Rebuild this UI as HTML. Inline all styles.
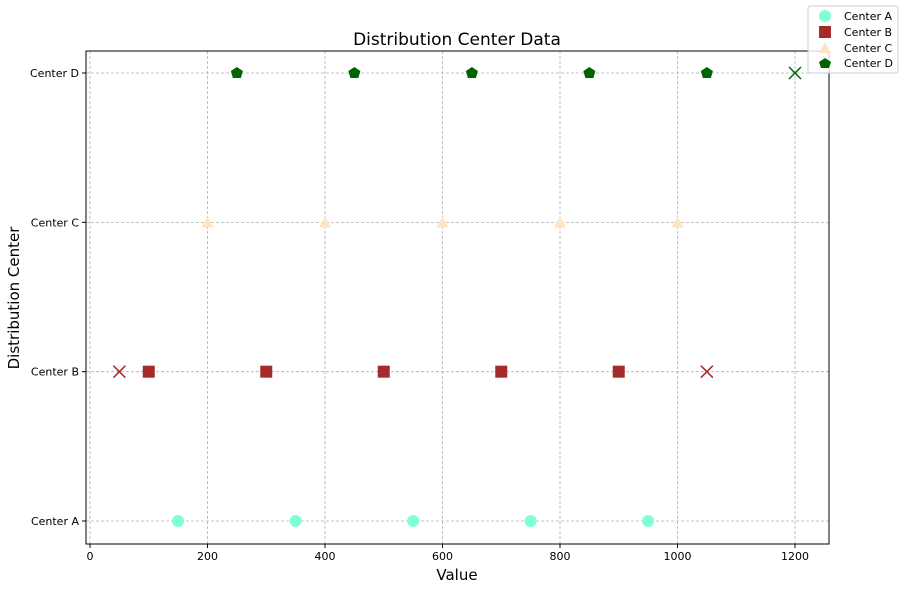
<!DOCTYPE html>
<html><head><meta charset="utf-8"><style>
body{margin:0;background:#fff;font-family:"Liberation Sans","DejaVu Sans",sans-serif}
</style></head><body>
<svg id="chart" width="905" height="589" xmlns="http://www.w3.org/2000/svg" font-family="DejaVu Sans, Liberation Sans, sans-serif">
<rect width="905" height="589" fill="#fff"/>
<g id="grid"></g>
<g id="marks"></g>
<rect x="86" y="51" width="743" height="493" fill="none" stroke="#000" stroke-width="1"/>
<g id="xticks"></g>
<g id="yticks"></g>
<text x="457" y="45" text-anchor="middle" font-size="17">Distribution Center Data</text>
<text x="457" y="580" text-anchor="middle" font-size="15">Value</text>
<text transform="translate(19,298) rotate(-90)" text-anchor="middle" font-size="15">Distribution Center</text>
<g>
<rect x="808" y="6" width="90" height="67" fill="#fff" fill-opacity="0.8" stroke="#ccc" rx="2"/>
<circle cx="825" cy="16" r="6" fill="#7fffd4"/>
<text x="844" y="20" font-size="11">Center A</text>
<rect x="819" y="26" width="12" height="12" fill="#a52a2a"/>
<text x="844" y="36" font-size="11">Center B</text>
<polygon points="825,42 831,53 819,53" fill="#ffe4c4"/>
<text x="844" y="52" font-size="11">Center C</text>
<polygon points="825,58 831,62 829,68 821,68 819,62" fill="#006400"/>
<text x="844" y="67" font-size="11">Center D</text>
</g>
</svg>
<script>
const categories=["Center A","Center B","Center C","Center D"];
const valuesA=[150,350,550,750,950];
const valuesB=[100,300,500,700,900];
const valuesC=[200,400,600,800,1000];
const valuesD=[250,450,650,850,1050];
const outliersB=[50,1050];
const outliersD=[1200];
const xTicks=[0,200,400,600,800,1000,1200];
const NS="http://www.w3.org/2000/svg";
const xs=v=>90+v*(705/1200);
const ys=i=>521-i*149.33;
function mk(tag,attrs,parent){const e=document.createElementNS(NS,tag);for(const k in attrs)e.setAttribute(k,attrs[k]);parent.appendChild(e);return e;}
const grid=document.getElementById('grid'),marks=document.getElementById('marks'),xt=document.getElementById('xticks'),yt=document.getElementById('yticks');
xTicks.forEach(t=>{const x=xs(t);
const g=mk('line',{x1:x,x2:x,y1:51,y2:544,stroke:'#b0b0b0','stroke-dasharray':'3,2','stroke-width':0.8},grid);

const l=mk('line',{x1:x,x2:x,y1:544,y2:548,stroke:'#000'},xt);

const tx=mk('text',{x:x,y:560,'text-anchor':'middle','font-size':11},xt);tx.textContent=t;
});
categories.forEach((c,i)=>{const y=ys(i);
const g=mk('line',{x1:86,x2:829,y1:y,y2:y,stroke:'#b0b0b0','stroke-dasharray':'3,2','stroke-width':0.8},grid);

const l=mk('line',{x1:82,x2:86,y1:y,y2:y,stroke:'#000'},yt);

const tx=mk('text',{x:79,y:y+4,'text-anchor':'end','font-size':11},yt);tx.textContent=c;
});
valuesA.forEach(v=>{const e=mk('circle',{cx:xs(v),cy:ys(0),r:6,fill:'#7fffd4'},marks);
});
valuesB.forEach(v=>{const x=xs(v),y=ys(1);const e=mk('rect',{x:x-6,y:y-6,width:12,height:12,fill:'#a52a2a'},marks);
});
valuesC.forEach(v=>{const x=xs(v),y=ys(2);const e=mk('polygon',{points:`${x},${y-6} ${x+6},${y+5} ${x-6},${y+5}`,fill:'#ffe4c4'},marks);
});
valuesD.forEach(v=>{const x=xs(v),y=ys(3);const e=mk('polygon',{points:`${x},${y-6} ${x+6},${y-2} ${x+4},${y+5} ${x-4},${y+5} ${x-6},${y-2}`,fill:'#006400'},marks);
});
function cross(v,i,col,name){const x=xs(v),y=ys(i);
const e=mk('path',{d:`M${x-6},${y-6}L${x+6},${y+6}M${x-6},${y+6}L${x+6},${y-6}`,stroke:col,'stroke-width':1.5},marks);
}
outliersB.forEach(v=>cross(v,1,'#a52a2a','outlier-center-b'));
outliersD.forEach(v=>cross(v,3,'#006400','outlier-center-d'));
</script>
</body></html>
